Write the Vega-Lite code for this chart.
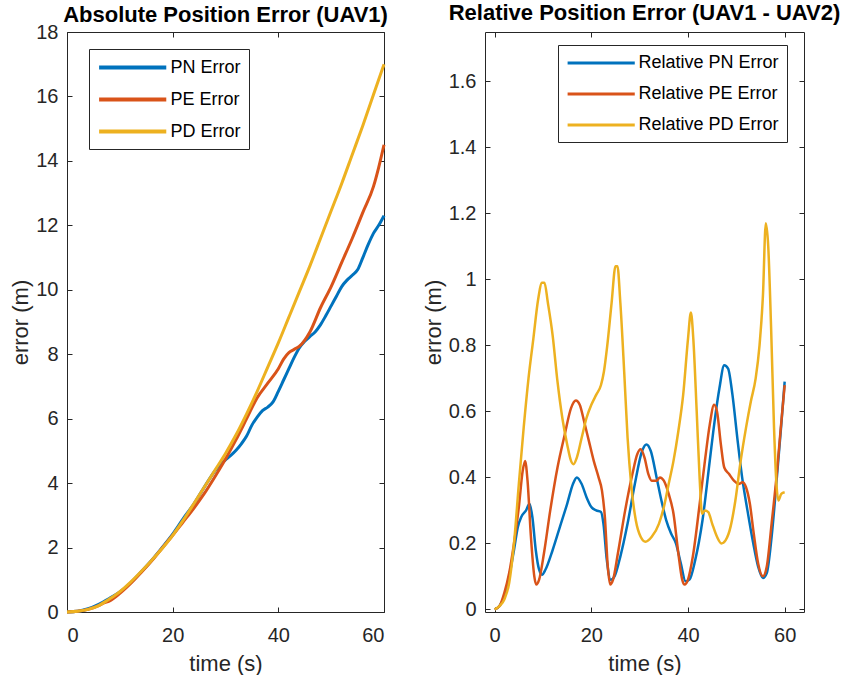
{
  "$schema": "https://vega.github.io/schema/vega-lite/v6.json",
  "background": "white",
  "padding": {"left": 9, "top": 1, "right": 0, "bottom": 0},
  "autosize": {"type": "pad"},
  "config": {
    "font": "Liberation Sans",
    "view": {"stroke": "#262626", "strokeWidth": 1},
    "axis": {
      "grid": false,
      "domain": false,
      "tickColor": "#262626",
      "tickSize": -5,
      "labelColor": "#262626",
      "labelFontSize": 20,
      "labelFont": "Liberation Sans",
      "titleColor": "#262626",
      "titleFontSize": 22,
      "titleFontWeight": "normal",
      "titleFont": "Liberation Sans"
    },
    "axisBottom": {"labelPadding": 18, "titlePadding": 8},
    "axisLeft": {"labelPadding": 14, "titlePadding": 3},
    "title": {"fontSize": 22, "fontWeight": "bold", "color": "#000000", "offset": 7, "anchor": "middle", "font": "Liberation Sans"},
    "legend": {
      "orient": "none",
      "title": null,
      "symbolType": "M-1,0H7",
      "symbolSize": 282,
      "labelOffset": 52.5,
      "labelFontSize": 18,
      "labelColor": "#000000",
      "labelFont": "Liberation Sans",
      "strokeColor": "#262626",
      "fillColor": "white",
      "padding": 8,
      "rowPadding": 12
    }
  },
  "datasets": {
    "abs": [
      {"s": "PN Error", "t": 0, "v": 0}, {"s": "PN Error", "t": 2, "v": 0.02}, {"s": "PN Error", "t": 4, "v": 0.1}, {"s": "PN Error", "t": 6, "v": 0.24}, {"s": "PN Error", "t": 8, "v": 0.42}, {"s": "PN Error", "t": 10, "v": 0.62}, {"s": "PN Error", "t": 12, "v": 0.9}, {"s": "PN Error", "t": 14, "v": 1.24}, {"s": "PN Error", "t": 16, "v": 1.6}, {"s": "PN Error", "t": 18, "v": 2.0}, {"s": "PN Error", "t": 20, "v": 2.42}, {"s": "PN Error", "t": 22, "v": 2.9}, {"s": "PN Error", "t": 24, "v": 3.35}, {"s": "PN Error", "t": 26, "v": 3.88}, {"s": "PN Error", "t": 28, "v": 4.38}, {"s": "PN Error", "t": 29, "v": 4.58}, {"s": "PN Error", "t": 30, "v": 4.72}, {"s": "PN Error", "t": 31, "v": 4.86}, {"s": "PN Error", "t": 32, "v": 5.02}, {"s": "PN Error", "t": 33, "v": 5.22}, {"s": "PN Error", "t": 34, "v": 5.46}, {"s": "PN Error", "t": 35, "v": 5.8}, {"s": "PN Error", "t": 36, "v": 6.05}, {"s": "PN Error", "t": 37, "v": 6.25}, {"s": "PN Error", "t": 38, "v": 6.36}, {"s": "PN Error", "t": 39, "v": 6.52}, {"s": "PN Error", "t": 40, "v": 6.85}, {"s": "PN Error", "t": 41, "v": 7.2}, {"s": "PN Error", "t": 42, "v": 7.55}, {"s": "PN Error", "t": 43, "v": 7.9}, {"s": "PN Error", "t": 44, "v": 8.2}, {"s": "PN Error", "t": 45, "v": 8.4}, {"s": "PN Error", "t": 46, "v": 8.55}, {"s": "PN Error", "t": 47, "v": 8.7}, {"s": "PN Error", "t": 48, "v": 8.92}, {"s": "PN Error", "t": 49, "v": 9.2}, {"s": "PN Error", "t": 50, "v": 9.5}, {"s": "PN Error", "t": 51, "v": 9.8}, {"s": "PN Error", "t": 52, "v": 10.1}, {"s": "PN Error", "t": 53, "v": 10.3}, {"s": "PN Error", "t": 54, "v": 10.45}, {"s": "PN Error", "t": 55, "v": 10.62}, {"s": "PN Error", "t": 56, "v": 11.0}, {"s": "PN Error", "t": 57, "v": 11.4}, {"s": "PN Error", "t": 58, "v": 11.75}, {"s": "PN Error", "t": 59, "v": 12.0}, {"s": "PN Error", "t": 60, "v": 12.3},
      {"s": "PE Error", "t": 0, "v": 0}, {"s": "PE Error", "t": 2, "v": 0.02}, {"s": "PE Error", "t": 4, "v": 0.08}, {"s": "PE Error", "t": 6, "v": 0.2}, {"s": "PE Error", "t": 7, "v": 0.28}, {"s": "PE Error", "t": 8, "v": 0.34}, {"s": "PE Error", "t": 10, "v": 0.58}, {"s": "PE Error", "t": 12, "v": 0.88}, {"s": "PE Error", "t": 14, "v": 1.22}, {"s": "PE Error", "t": 16, "v": 1.58}, {"s": "PE Error", "t": 18, "v": 1.98}, {"s": "PE Error", "t": 20, "v": 2.38}, {"s": "PE Error", "t": 22, "v": 2.8}, {"s": "PE Error", "t": 24, "v": 3.22}, {"s": "PE Error", "t": 26, "v": 3.68}, {"s": "PE Error", "t": 28, "v": 4.2}, {"s": "PE Error", "t": 30, "v": 4.75}, {"s": "PE Error", "t": 32, "v": 5.35}, {"s": "PE Error", "t": 34, "v": 6.0}, {"s": "PE Error", "t": 36, "v": 6.65}, {"s": "PE Error", "t": 38, "v": 7.1}, {"s": "PE Error", "t": 40, "v": 7.55}, {"s": "PE Error", "t": 41, "v": 7.85}, {"s": "PE Error", "t": 42, "v": 8.05}, {"s": "PE Error", "t": 43, "v": 8.15}, {"s": "PE Error", "t": 44, "v": 8.25}, {"s": "PE Error", "t": 46, "v": 8.7}, {"s": "PE Error", "t": 48, "v": 9.45}, {"s": "PE Error", "t": 50, "v": 10.1}, {"s": "PE Error", "t": 52, "v": 10.85}, {"s": "PE Error", "t": 54, "v": 11.6}, {"s": "PE Error", "t": 56, "v": 12.4}, {"s": "PE Error", "t": 58, "v": 13.2}, {"s": "PE Error", "t": 59, "v": 13.8}, {"s": "PE Error", "t": 60, "v": 14.5},
      {"s": "PD Error", "t": 0, "v": 0}, {"s": "PD Error", "t": 2, "v": 0.02}, {"s": "PD Error", "t": 4, "v": 0.08}, {"s": "PD Error", "t": 6, "v": 0.2}, {"s": "PD Error", "t": 8, "v": 0.4}, {"s": "PD Error", "t": 10, "v": 0.63}, {"s": "PD Error", "t": 12, "v": 0.92}, {"s": "PD Error", "t": 14, "v": 1.25}, {"s": "PD Error", "t": 16, "v": 1.6}, {"s": "PD Error", "t": 18, "v": 1.97}, {"s": "PD Error", "t": 20, "v": 2.38}, {"s": "PD Error", "t": 22, "v": 2.85}, {"s": "PD Error", "t": 24, "v": 3.36}, {"s": "PD Error", "t": 26, "v": 3.88}, {"s": "PD Error", "t": 28, "v": 4.4}, {"s": "PD Error", "t": 30, "v": 4.92}, {"s": "PD Error", "t": 32, "v": 5.5}, {"s": "PD Error", "t": 34, "v": 6.15}, {"s": "PD Error", "t": 36, "v": 6.85}, {"s": "PD Error", "t": 38, "v": 7.6}, {"s": "PD Error", "t": 40, "v": 8.35}, {"s": "PD Error", "t": 42, "v": 9.15}, {"s": "PD Error", "t": 44, "v": 9.95}, {"s": "PD Error", "t": 46, "v": 10.75}, {"s": "PD Error", "t": 48, "v": 11.6}, {"s": "PD Error", "t": 50, "v": 12.45}, {"s": "PD Error", "t": 52, "v": 13.3}, {"s": "PD Error", "t": 54, "v": 14.2}, {"s": "PD Error", "t": 56, "v": 15.1}, {"s": "PD Error", "t": 58, "v": 16.05}, {"s": "PD Error", "t": 60, "v": 17.0}
    ],
    "rel": [
      {"s": "Relative PN Error", "t": 0, "v": 0}, {"s": "Relative PN Error", "t": 1, "v": 0.01}, {"s": "Relative PN Error", "t": 2, "v": 0.04}, {"s": "Relative PN Error", "t": 3, "v": 0.1}, {"s": "Relative PN Error", "t": 4, "v": 0.18}, {"s": "Relative PN Error", "t": 4.8, "v": 0.25}, {"s": "Relative PN Error", "t": 5.5, "v": 0.28}, {"s": "Relative PN Error", "t": 6.5, "v": 0.3}, {"s": "Relative PN Error", "t": 7.2, "v": 0.32}, {"s": "Relative PN Error", "t": 7.8, "v": 0.28}, {"s": "Relative PN Error", "t": 8.5, "v": 0.18}, {"s": "Relative PN Error", "t": 9.2, "v": 0.12}, {"s": "Relative PN Error", "t": 9.8, "v": 0.105}, {"s": "Relative PN Error", "t": 10.5, "v": 0.12}, {"s": "Relative PN Error", "t": 12, "v": 0.18}, {"s": "Relative PN Error", "t": 13.5, "v": 0.25}, {"s": "Relative PN Error", "t": 15, "v": 0.32}, {"s": "Relative PN Error", "t": 16.2, "v": 0.38}, {"s": "Relative PN Error", "t": 17, "v": 0.4}, {"s": "Relative PN Error", "t": 18, "v": 0.38}, {"s": "Relative PN Error", "t": 19, "v": 0.34}, {"s": "Relative PN Error", "t": 20, "v": 0.31}, {"s": "Relative PN Error", "t": 21, "v": 0.3}, {"s": "Relative PN Error", "t": 22, "v": 0.295}, {"s": "Relative PN Error", "t": 22.5, "v": 0.26}, {"s": "Relative PN Error", "t": 23.2, "v": 0.15}, {"s": "Relative PN Error", "t": 24, "v": 0.09}, {"s": "Relative PN Error", "t": 24.8, "v": 0.1}, {"s": "Relative PN Error", "t": 26, "v": 0.16}, {"s": "Relative PN Error", "t": 27.5, "v": 0.26}, {"s": "Relative PN Error", "t": 29, "v": 0.38}, {"s": "Relative PN Error", "t": 30.5, "v": 0.48}, {"s": "Relative PN Error", "t": 31.4, "v": 0.5}, {"s": "Relative PN Error", "t": 32.3, "v": 0.48}, {"s": "Relative PN Error", "t": 33.5, "v": 0.4}, {"s": "Relative PN Error", "t": 34.5, "v": 0.33}, {"s": "Relative PN Error", "t": 35.5, "v": 0.27}, {"s": "Relative PN Error", "t": 36.5, "v": 0.23}, {"s": "Relative PN Error", "t": 37.5, "v": 0.2}, {"s": "Relative PN Error", "t": 38.5, "v": 0.14}, {"s": "Relative PN Error", "t": 39.5, "v": 0.085}, {"s": "Relative PN Error", "t": 40.3, "v": 0.09}, {"s": "Relative PN Error", "t": 41.5, "v": 0.15}, {"s": "Relative PN Error", "t": 43, "v": 0.27}, {"s": "Relative PN Error", "t": 44.5, "v": 0.45}, {"s": "Relative PN Error", "t": 45.5, "v": 0.57}, {"s": "Relative PN Error", "t": 46.5, "v": 0.67}, {"s": "Relative PN Error", "t": 47.5, "v": 0.74}, {"s": "Relative PN Error", "t": 48.3, "v": 0.73}, {"s": "Relative PN Error", "t": 49.2, "v": 0.65}, {"s": "Relative PN Error", "t": 50.2, "v": 0.52}, {"s": "Relative PN Error", "t": 51.2, "v": 0.4}, {"s": "Relative PN Error", "t": 52.3, "v": 0.3}, {"s": "Relative PN Error", "t": 53.5, "v": 0.2}, {"s": "Relative PN Error", "t": 54.5, "v": 0.13}, {"s": "Relative PN Error", "t": 55.5, "v": 0.095}, {"s": "Relative PN Error", "t": 56.3, "v": 0.11}, {"s": "Relative PN Error", "t": 57.3, "v": 0.22}, {"s": "Relative PN Error", "t": 58.5, "v": 0.42}, {"s": "Relative PN Error", "t": 59.3, "v": 0.56}, {"s": "Relative PN Error", "t": 60, "v": 0.69},
      {"s": "Relative PE Error", "t": 0, "v": 0}, {"s": "Relative PE Error", "t": 1, "v": 0.01}, {"s": "Relative PE Error", "t": 2, "v": 0.05}, {"s": "Relative PE Error", "t": 3, "v": 0.11}, {"s": "Relative PE Error", "t": 4, "v": 0.2}, {"s": "Relative PE Error", "t": 5, "v": 0.31}, {"s": "Relative PE Error", "t": 5.8, "v": 0.42}, {"s": "Relative PE Error", "t": 6.3, "v": 0.45}, {"s": "Relative PE Error", "t": 6.8, "v": 0.39}, {"s": "Relative PE Error", "t": 7.5, "v": 0.22}, {"s": "Relative PE Error", "t": 8.2, "v": 0.1}, {"s": "Relative PE Error", "t": 8.6, "v": 0.075}, {"s": "Relative PE Error", "t": 9.2, "v": 0.09}, {"s": "Relative PE Error", "t": 10.2, "v": 0.17}, {"s": "Relative PE Error", "t": 11.5, "v": 0.3}, {"s": "Relative PE Error", "t": 13, "v": 0.43}, {"s": "Relative PE Error", "t": 14.5, "v": 0.53}, {"s": "Relative PE Error", "t": 15.8, "v": 0.61}, {"s": "Relative PE Error", "t": 16.8, "v": 0.633}, {"s": "Relative PE Error", "t": 17.6, "v": 0.62}, {"s": "Relative PE Error", "t": 18.5, "v": 0.57}, {"s": "Relative PE Error", "t": 19.5, "v": 0.51}, {"s": "Relative PE Error", "t": 20.5, "v": 0.45}, {"s": "Relative PE Error", "t": 21.5, "v": 0.4}, {"s": "Relative PE Error", "t": 22.2, "v": 0.36}, {"s": "Relative PE Error", "t": 22.8, "v": 0.28}, {"s": "Relative PE Error", "t": 23.4, "v": 0.13}, {"s": "Relative PE Error", "t": 23.9, "v": 0.075}, {"s": "Relative PE Error", "t": 24.5, "v": 0.09}, {"s": "Relative PE Error", "t": 25.5, "v": 0.17}, {"s": "Relative PE Error", "t": 27, "v": 0.3}, {"s": "Relative PE Error", "t": 28.5, "v": 0.41}, {"s": "Relative PE Error", "t": 29.5, "v": 0.47}, {"s": "Relative PE Error", "t": 30.2, "v": 0.485}, {"s": "Relative PE Error", "t": 31, "v": 0.46}, {"s": "Relative PE Error", "t": 31.8, "v": 0.41}, {"s": "Relative PE Error", "t": 32.5, "v": 0.39}, {"s": "Relative PE Error", "t": 33.5, "v": 0.39}, {"s": "Relative PE Error", "t": 34.2, "v": 0.4}, {"s": "Relative PE Error", "t": 35, "v": 0.39}, {"s": "Relative PE Error", "t": 36, "v": 0.35}, {"s": "Relative PE Error", "t": 37, "v": 0.29}, {"s": "Relative PE Error", "t": 38, "v": 0.17}, {"s": "Relative PE Error", "t": 38.8, "v": 0.09}, {"s": "Relative PE Error", "t": 39.3, "v": 0.075}, {"s": "Relative PE Error", "t": 40, "v": 0.09}, {"s": "Relative PE Error", "t": 41, "v": 0.16}, {"s": "Relative PE Error", "t": 42.5, "v": 0.33}, {"s": "Relative PE Error", "t": 43.5, "v": 0.45}, {"s": "Relative PE Error", "t": 44.5, "v": 0.56}, {"s": "Relative PE Error", "t": 45.4, "v": 0.62}, {"s": "Relative PE Error", "t": 46, "v": 0.6}, {"s": "Relative PE Error", "t": 46.8, "v": 0.5}, {"s": "Relative PE Error", "t": 47.5, "v": 0.43}, {"s": "Relative PE Error", "t": 48.5, "v": 0.41}, {"s": "Relative PE Error", "t": 49.5, "v": 0.39}, {"s": "Relative PE Error", "t": 50.5, "v": 0.38}, {"s": "Relative PE Error", "t": 51.3, "v": 0.385}, {"s": "Relative PE Error", "t": 52, "v": 0.37}, {"s": "Relative PE Error", "t": 52.8, "v": 0.32}, {"s": "Relative PE Error", "t": 53.6, "v": 0.23}, {"s": "Relative PE Error", "t": 54.5, "v": 0.14}, {"s": "Relative PE Error", "t": 55.5, "v": 0.1}, {"s": "Relative PE Error", "t": 56.3, "v": 0.13}, {"s": "Relative PE Error", "t": 57.3, "v": 0.26}, {"s": "Relative PE Error", "t": 58.3, "v": 0.4}, {"s": "Relative PE Error", "t": 59.2, "v": 0.55}, {"s": "Relative PE Error", "t": 60, "v": 0.68},
      {"s": "Relative PD Error", "t": 0, "v": 0}, {"s": "Relative PD Error", "t": 1, "v": 0.01}, {"s": "Relative PD Error", "t": 2, "v": 0.03}, {"s": "Relative PD Error", "t": 3, "v": 0.08}, {"s": "Relative PD Error", "t": 4, "v": 0.2}, {"s": "Relative PD Error", "t": 5, "v": 0.38}, {"s": "Relative PD Error", "t": 6, "v": 0.55}, {"s": "Relative PD Error", "t": 7, "v": 0.7}, {"s": "Relative PD Error", "t": 8, "v": 0.82}, {"s": "Relative PD Error", "t": 9, "v": 0.94}, {"s": "Relative PD Error", "t": 9.8, "v": 0.99}, {"s": "Relative PD Error", "t": 10.3, "v": 0.99}, {"s": "Relative PD Error", "t": 11, "v": 0.93}, {"s": "Relative PD Error", "t": 12, "v": 0.83}, {"s": "Relative PD Error", "t": 13, "v": 0.69}, {"s": "Relative PD Error", "t": 14, "v": 0.58}, {"s": "Relative PD Error", "t": 15, "v": 0.5}, {"s": "Relative PD Error", "t": 15.8, "v": 0.45}, {"s": "Relative PD Error", "t": 16.3, "v": 0.44}, {"s": "Relative PD Error", "t": 17, "v": 0.46}, {"s": "Relative PD Error", "t": 18, "v": 0.52}, {"s": "Relative PD Error", "t": 19, "v": 0.58}, {"s": "Relative PD Error", "t": 20, "v": 0.62}, {"s": "Relative PD Error", "t": 21, "v": 0.65}, {"s": "Relative PD Error", "t": 22, "v": 0.68}, {"s": "Relative PD Error", "t": 22.6, "v": 0.72}, {"s": "Relative PD Error", "t": 23.3, "v": 0.8}, {"s": "Relative PD Error", "t": 24.2, "v": 0.93}, {"s": "Relative PD Error", "t": 25, "v": 1.04}, {"s": "Relative PD Error", "t": 25.4, "v": 1.04}, {"s": "Relative PD Error", "t": 26, "v": 0.93}, {"s": "Relative PD Error", "t": 26.8, "v": 0.72}, {"s": "Relative PD Error", "t": 27.5, "v": 0.52}, {"s": "Relative PD Error", "t": 28.3, "v": 0.37}, {"s": "Relative PD Error", "t": 29.2, "v": 0.27}, {"s": "Relative PD Error", "t": 30.2, "v": 0.22}, {"s": "Relative PD Error", "t": 31.2, "v": 0.205}, {"s": "Relative PD Error", "t": 32.5, "v": 0.22}, {"s": "Relative PD Error", "t": 34, "v": 0.26}, {"s": "Relative PD Error", "t": 35, "v": 0.31}, {"s": "Relative PD Error", "t": 36, "v": 0.38}, {"s": "Relative PD Error", "t": 37, "v": 0.45}, {"s": "Relative PD Error", "t": 38, "v": 0.54}, {"s": "Relative PD Error", "t": 39, "v": 0.65}, {"s": "Relative PD Error", "t": 40, "v": 0.82}, {"s": "Relative PD Error", "t": 40.6, "v": 0.9}, {"s": "Relative PD Error", "t": 41.1, "v": 0.82}, {"s": "Relative PD Error", "t": 41.8, "v": 0.6}, {"s": "Relative PD Error", "t": 42.4, "v": 0.4}, {"s": "Relative PD Error", "t": 42.9, "v": 0.29}, {"s": "Relative PD Error", "t": 43.5, "v": 0.3}, {"s": "Relative PD Error", "t": 44.2, "v": 0.295}, {"s": "Relative PD Error", "t": 45, "v": 0.26}, {"s": "Relative PD Error", "t": 46, "v": 0.22}, {"s": "Relative PD Error", "t": 46.9, "v": 0.2}, {"s": "Relative PD Error", "t": 47.8, "v": 0.21}, {"s": "Relative PD Error", "t": 48.8, "v": 0.25}, {"s": "Relative PD Error", "t": 49.8, "v": 0.33}, {"s": "Relative PD Error", "t": 50.8, "v": 0.44}, {"s": "Relative PD Error", "t": 52, "v": 0.55}, {"s": "Relative PD Error", "t": 53, "v": 0.63}, {"s": "Relative PD Error", "t": 54, "v": 0.7}, {"s": "Relative PD Error", "t": 54.8, "v": 0.8}, {"s": "Relative PD Error", "t": 55.5, "v": 0.95}, {"s": "Relative PD Error", "t": 56.1, "v": 1.17}, {"s": "Relative PD Error", "t": 56.6, "v": 1.1}, {"s": "Relative PD Error", "t": 57.2, "v": 0.85}, {"s": "Relative PD Error", "t": 57.8, "v": 0.55}, {"s": "Relative PD Error", "t": 58.3, "v": 0.38}, {"s": "Relative PD Error", "t": 58.7, "v": 0.33}, {"s": "Relative PD Error", "t": 59.3, "v": 0.35}, {"s": "Relative PD Error", "t": 60, "v": 0.355}
    ]
  },
  "bounds": "flush",
  "spacing": 101,
  "resolve": {"scale": {"color": "independent"}, "legend": {"color": "independent"}},
  "hconcat": [
    {
      "width": 317,
      "height": 580,
      "title": {"text": "Absolute Position Error (UAV1)", "anchor": "middle", "offset": -5},
      "data": {"name": "abs"},
      "resolve": {"axis": {"x": "independent", "y": "independent"}},
      "layer": [
        {
          "mark": {"type": "line", "strokeWidth": 3, "interpolate": "monotone"},
          "encoding": {
            "x": {"field": "t", "type": "quantitative", "scale": {"domain": [0, 60], "nice": false}, "axis": {"values": [0, 20, 40, 60], "title": "time (s)"}},
            "y": {"field": "v", "type": "quantitative", "scale": {"domain": [0, 18], "nice": false}, "axis": {"values": [0, 2, 4, 6, 8, 10, 12, 14, 16, 18], "title": "error (m)"}},
            "color": {"field": "s", "type": "nominal", "scale": {"domain": ["PN Error", "PE Error", "PD Error"], "range": ["#0072BD", "#D95319", "#EDB120"]}, "legend": {"legendX": 22, "legendY": 17, "symbolStrokeWidth": 4}}
          }
        },
        {
          "mark": {"type": "line", "opacity": 0},
          "encoding": {
            "x": {"field": "t", "type": "quantitative", "axis": {"orient": "top", "values": [0, 20, 40, 60], "labels": false, "title": null}},
            "y": {"field": "v", "type": "quantitative", "axis": {"orient": "right", "values": [0, 2, 4, 6, 8, 10, 12, 14, 16, 18], "labels": false, "title": null}},
            "detail": {"field": "s"}
          }
        }
      ]
    },
    {
      "width": 319,
      "height": 580,
      "title": {"text": "Relative Position Error (UAV1 - UAV2)", "anchor": "middle"},
      "data": {"name": "rel"},
      "resolve": {"axis": {"x": "independent", "y": "independent"}},
      "layer": [
        {
          "mark": {"type": "line", "strokeWidth": 2.5, "interpolate": "monotone"},
          "encoding": {
            "x": {"field": "t", "type": "quantitative", "scale": {"domain": [-2, 64], "nice": false}, "axis": {"values": [0, 20, 40, 60], "title": "time (s)"}},
            "y": {"field": "v", "type": "quantitative", "scale": {"domain": [-0.008, 1.75], "nice": false}, "axis": {"values": [0, 0.2, 0.4, 0.6, 0.8, 1, 1.2, 1.4, 1.6], "format": "~g", "title": "error (m)"}},
            "color": {"field": "s", "type": "nominal", "scale": {"domain": ["Relative PN Error", "Relative PE Error", "Relative PD Error"], "range": ["#0072BD", "#D95319", "#EDB120"]}, "legend": {"legendX": 73, "legendY": 13, "symbolStrokeWidth": 3}}
          }
        },
        {
          "mark": {"type": "line", "opacity": 0},
          "encoding": {
            "x": {"field": "t", "type": "quantitative", "axis": {"orient": "top", "values": [0, 20, 40, 60], "labels": false, "title": null}},
            "y": {"field": "v", "type": "quantitative", "axis": {"orient": "right", "values": [0, 0.2, 0.4, 0.6, 0.8, 1, 1.2, 1.4, 1.6], "labels": false, "title": null}},
            "detail": {"field": "s"}
          }
        }
      ]
    }
  ]
}
